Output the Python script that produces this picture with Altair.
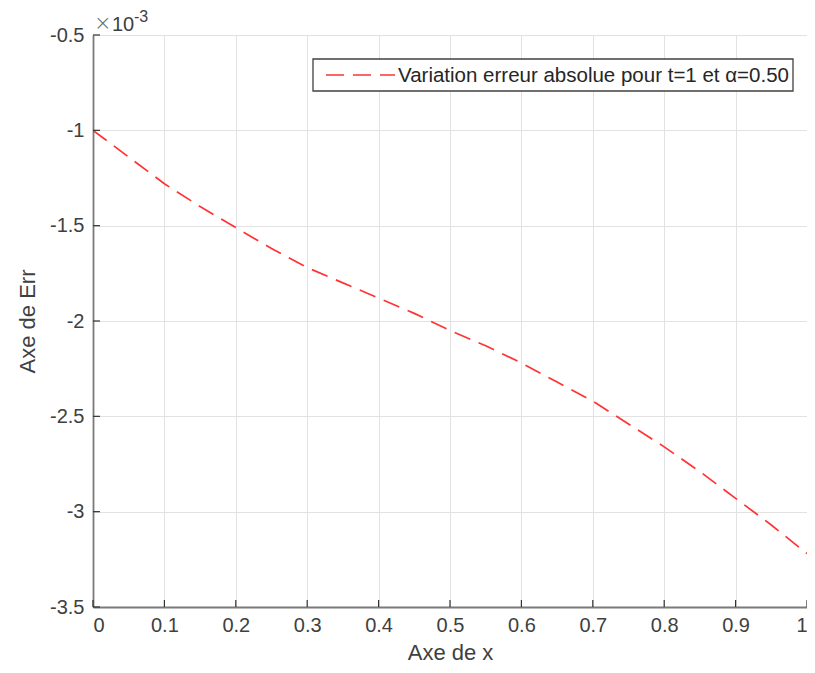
import altair as alt
import pandas as pd

x_vals = [0.0, 0.05, 0.1, 0.15, 0.2, 0.25, 0.3, 0.35, 0.4, 0.45, 0.5,
          0.55, 0.6, 0.65, 0.7, 0.75, 0.8, 0.85, 0.9, 0.95, 1.0]
err_vals = [-1.00, -1.14, -1.28, -1.40, -1.51, -1.62, -1.72, -1.80, -1.88, -1.96, -2.05,
            -2.13, -2.22, -2.32, -2.42, -2.54, -2.66, -2.79, -2.93, -3.07, -3.22]
x_ticks = [0, 0.1, 0.2, 0.3, 0.4, 0.5, 0.6, 0.7, 0.8, 0.9, 1]
y_ticks = [-3.5, -3, -2.5, -2, -1.5, -1, -0.5]
series_name = "Variation erreur absolue pour t=1 et α=0.50"

W, H = 714, 572
FONT = "Liberation Sans"
RED = "#ff3333"
AXC = "#7a7a7a"
TXT = "#404040"
DASH = [17, 9]

df = pd.DataFrame({"x": x_vals, "err": err_vals})
dfx = pd.DataFrame({"t": x_ticks})
dfy = pd.DataFrame({"t": y_ticks})

xscale = alt.Scale(domain=[0, 1], nice=False, zero=False)
yscale = alt.Scale(domain=[-3.5, -0.5], nice=False, zero=False)

line = alt.Chart(df).mark_line(strokeDash=DASH, strokeWidth=1.7, color=RED, clip=True).encode(
    x=alt.X("x:Q", scale=xscale, axis=alt.Axis(
        title="Axe de x", values=x_ticks, labelExpr="toString(datum.value)",
        grid=True, gridColor="#e2e2e2", gridWidth=1, ticks=False,
        domainColor=AXC, domainWidth=1.8, labelColor=TXT, labelFont=FONT,
        labelFontSize=20, labelPadding=8, titleFont=FONT, titleFontSize=22,
        titleFontWeight="normal", titleColor=TXT, titlePadding=7)),
    y=alt.Y("err:Q", scale=yscale, axis=alt.Axis(
        title="Axe de Err", values=y_ticks, labelExpr="toString(datum.value)",
        grid=True, gridColor="#e2e2e2", gridWidth=1, ticks=False,
        domainColor=AXC, domainWidth=1.8, labelColor=TXT, labelFont=FONT,
        labelFontSize=20, labelPadding=9, titleFont=FONT, titleFontSize=22,
        titleFontWeight="normal", titleColor=TXT, titlePadding=10)),
)

xt = alt.Chart(dfx).mark_rule(color="#333333", strokeWidth=1.2).encode(
    x=alt.X("t:Q", scale=xscale), y=alt.value(H), y2=alt.value(H - 7))
yt = alt.Chart(dfy).mark_rule(color="#333333", strokeWidth=1.2).encode(
    y=alt.Y("t:Q", scale=yscale), x=alt.value(0), x2=alt.value(7))

# legend (box, dashed sample, label)
leg_box = alt.Chart(pd.DataFrame({"k": [0]})).mark_rect(
    fill="white", stroke="#404040", strokeWidth=1.3).encode(
    x=alt.value(220), x2=alt.value(700), y=alt.value(24), y2=alt.value(56))
leg_line = alt.Chart(pd.DataFrame({"k": [0]})).mark_rule(
    color=RED, strokeWidth=1.7, strokeDash=[18, 9]).encode(
    x=alt.value(233), x2=alt.value(302), y=alt.value(40))
leg_text = alt.Chart(pd.DataFrame({"s": [series_name]})).mark_text(
    font=FONT, fontSize=20.5, color="#262626", align="left", baseline="middle").encode(
    text="s:N", x=alt.value(305), y=alt.value(40.5))

mult = alt.Chart(pd.DataFrame({"s": ["×"]})).mark_text(
    font="DejaVu Sans", fontSize=21, fontWeight=300, color="#6a6a6a", align="left",
    baseline="alphabetic").encode(
    text="s:N", x=alt.value(1), y=alt.value(-5))
ten = alt.Chart(pd.DataFrame({"s": ["10"]})).mark_text(
    font=FONT, fontSize=20, color=TXT, align="left", baseline="alphabetic").encode(
    text="s:N", x=alt.value(19), y=alt.value(-4))
sup = alt.Chart(pd.DataFrame({"s": ["-3"]})).mark_text(
    font=FONT, fontSize=16, color=TXT, align="left", baseline="alphabetic").encode(
    text="s:N", x=alt.value(41), y=alt.value(-13))

chart = alt.layer(line, xt, yt, leg_box, leg_line, leg_text, mult, ten, sup).properties(
    width=W, height=H,
    autosize=alt.AutoSizeParams(type="none"),
    padding={"left": 85, "top": 27, "right": 0, "bottom": 57},
    background="white",
).configure_view(stroke=None)

chart.save("out.html", embed_options={"renderer": "svg", "actions": False})
